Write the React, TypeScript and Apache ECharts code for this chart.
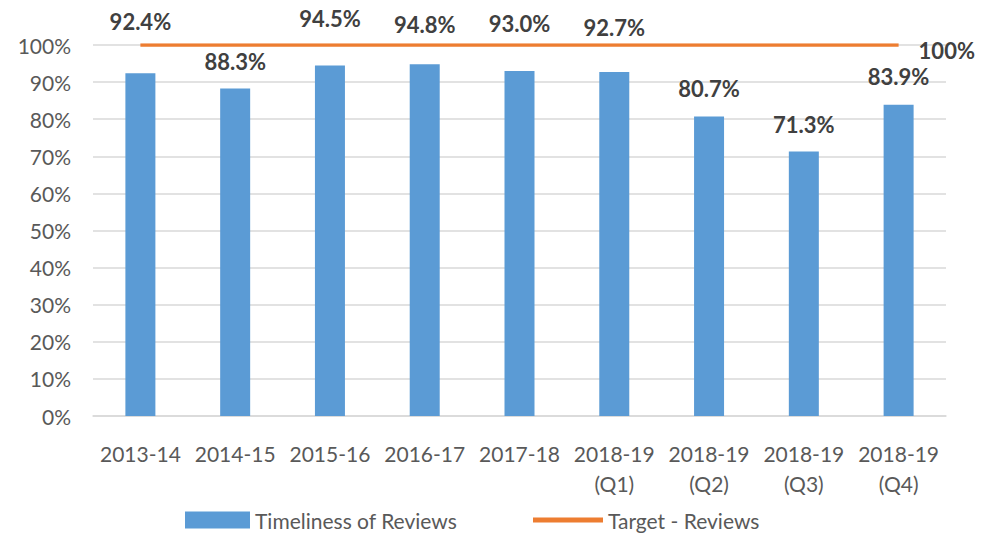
import React, { useEffect, useRef } from "react";
import * as echarts from "echarts";

const categories = [
  "2013-14",
  "2014-15",
  "2015-16",
  "2016-17",
  "2017-18",
  "2018-19\n(Q1)",
  "2018-19\n(Q2)",
  "2018-19\n(Q3)",
  "2018-19\n(Q4)",
];
const timeliness = [92.4, 88.3, 94.5, 94.8, 93.0, 92.7, 80.7, 71.3, 83.9];
const target = [100, 100, 100, 100, 100, 100, 100, 100, 100];
const yTicks = { min: 0, max: 100, interval: 10 };

// label vertical shifts (styling only)
const labelShift = [-36, -11, -31, -24, -31, -29, -12, -11, -12];

const FONT = "Lato";

export default function App() {
  const ref = useRef<HTMLDivElement>(null);
  useEffect(() => {
    if (!ref.current) return;
    const chart = echarts.init(ref.current, null, { renderer: "svg" });
    const legendText = {
      fontFamily: FONT,
      fontSize: 21,
      lineHeight: 24,
      color: "#595959",
    };
    chart.setOption({
      animation: false,
      textStyle: { fontFamily: FONT },
      grid: { left: 93, right: 60, top: 45, bottom: 119, containLabel: false },
      legend: [
        {
          left: 180,
          top: 503,
          icon: "rect",
          itemWidth: 65,
          itemHeight: 17,
          itemGap: 0,
          textStyle: legendText,
          data: ["Timeliness of Reviews"],
        },
        {
          left: 528,
          top: 503,
          icon: "rect",
          itemWidth: 70,
          itemHeight: 5,
          itemGap: 0,
          textStyle: legendText,
          data: ["Target - Reviews"],
        },
      ],
      xAxis: {
        type: "category",
        data: categories,
        axisTick: { show: false },
        axisLine: { lineStyle: { color: "#D9D9D9", width: 1.5 } },
        axisLabel: {
          fontFamily: FONT,
          fontSize: 21,
          color: "#595959",
          margin: 22,
          lineHeight: 30,
          interval: 0,
        },
      },
      yAxis: {
        type: "value",
        min: yTicks.min,
        max: yTicks.max,
        interval: yTicks.interval,
        axisLine: { show: false },
        axisTick: { show: false },
        splitLine: { lineStyle: { color: "#D9D9D9", width: 1.5 } },
        axisLabel: {
          formatter: "{value}%",
          fontFamily: FONT,
          fontSize: 21,
          color: "#595959",
          margin: 22,
        },
      },
      series: [
        {
          name: "Timeliness of Reviews",
          type: "bar",
          barWidth: 30,
          itemStyle: { color: "#5B9BD5" },
          data: timeliness.map((v, i) => ({
            value: v,
            label: { offset: [0, labelShift[i]] },
          })),
          label: {
            show: true,
            position: "top",
            distance: 5,
            formatter: (p: any) => p.value.toFixed(1) + "%",
            fontFamily: FONT,
            fontWeight: "bold",
            fontSize: 22,
            color: "#404040",
          },
        },
        {
          name: "Target - Reviews",
          type: "line",
          symbol: "none",
          showSymbol: false,
          lineStyle: { color: "#ED7D31", width: 3.5 },
          itemStyle: { color: "#ED7D31" },
          data: target,
          endLabel: {
            show: true,
            distance: 20,
            offset: [0, 5],
            formatter: (p: any) => p.value + "%",
            fontFamily: FONT,
            fontWeight: "bold",
            fontSize: 22,
            color: "#404040",
          },
        },
      ],
    });
    return () => chart.dispose();
  }, []);
  return (
    <div
      ref={ref}
      style={{ position: "fixed", left: 0, top: 0, width: 1006, height: 535, background: "#fff" }}
    />
  );
}
